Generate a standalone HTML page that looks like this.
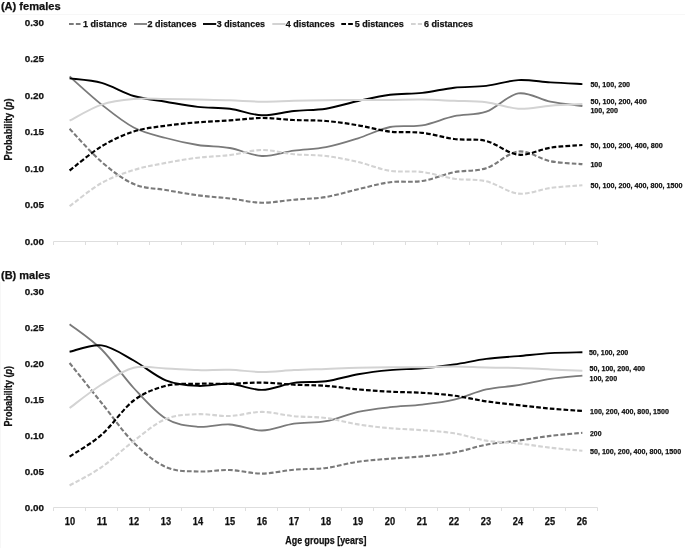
<!DOCTYPE html><html><head><meta charset="utf-8"><style>html,body{margin:0;padding:0;background:#fff;width:685px;height:548px;overflow:hidden}svg{display:block;will-change:transform}#wrap{width:685px;height:548px}text{font-family:"Liberation Sans", sans-serif;font-weight:bold;fill:#111;stroke:#111;stroke-width:0.25px}</style></head><body><div id="wrap">
<svg width="685" height="548" viewBox="0 0 685 548">
<rect width="685" height="548" fill="#fff"/>
<path d="M0,14.5H685M0.5,282V548" stroke="#f7f7f7" stroke-width="1" fill="none"/>
<text x="0.9" y="9.6" font-size="10.8" textLength="59.8" lengthAdjust="spacingAndGlyphs">(A) females</text>
<text x="1" y="278.6" font-size="10.8" textLength="49.4" lengthAdjust="spacingAndGlyphs">(B) males</text>
<text x="44" y="26" font-size="9.4" text-anchor="end" textLength="19.2" lengthAdjust="spacingAndGlyphs">0.30</text>
<text x="44" y="62.47" font-size="9.4" text-anchor="end" textLength="19.2" lengthAdjust="spacingAndGlyphs">0.25</text>
<text x="44" y="98.93" font-size="9.4" text-anchor="end" textLength="19.2" lengthAdjust="spacingAndGlyphs">0.20</text>
<text x="44" y="135.4" font-size="9.4" text-anchor="end" textLength="19.2" lengthAdjust="spacingAndGlyphs">0.15</text>
<text x="44" y="171.87" font-size="9.4" text-anchor="end" textLength="19.2" lengthAdjust="spacingAndGlyphs">0.10</text>
<text x="44" y="208.33" font-size="9.4" text-anchor="end" textLength="19.2" lengthAdjust="spacingAndGlyphs">0.05</text>
<text x="44" y="244.8" font-size="9.4" text-anchor="end" textLength="19.2" lengthAdjust="spacingAndGlyphs">0.00</text>
<text x="44" y="294.6" font-size="9.4" text-anchor="end" textLength="19.2" lengthAdjust="spacingAndGlyphs">0.30</text>
<text x="44" y="330.68" font-size="9.4" text-anchor="end" textLength="19.2" lengthAdjust="spacingAndGlyphs">0.25</text>
<text x="44" y="366.77" font-size="9.4" text-anchor="end" textLength="19.2" lengthAdjust="spacingAndGlyphs">0.20</text>
<text x="44" y="402.85" font-size="9.4" text-anchor="end" textLength="19.2" lengthAdjust="spacingAndGlyphs">0.15</text>
<text x="44" y="438.93" font-size="9.4" text-anchor="end" textLength="19.2" lengthAdjust="spacingAndGlyphs">0.10</text>
<text x="44" y="475.02" font-size="9.4" text-anchor="end" textLength="19.2" lengthAdjust="spacingAndGlyphs">0.05</text>
<text x="44" y="511.1" font-size="9.4" text-anchor="end" textLength="19.2" lengthAdjust="spacingAndGlyphs">0.00</text>
<text transform="translate(12.4,160.4) rotate(-90)" x="0" y="0" font-size="10.2" textLength="61.9" lengthAdjust="spacingAndGlyphs">Probability (<tspan font-style="italic">p</tspan>)</text>
<text transform="translate(12.4,426.6) rotate(-90)" x="0" y="0" font-size="10.2" textLength="60.6" lengthAdjust="spacingAndGlyphs">Probability (<tspan font-style="italic">p</tspan>)</text>
<path d="M53.5,241.5 H597.5 M53.5,241.5 V245 M85.5,241.5 V245 M117.5,241.5 V245 M149.5,241.5 V245 M181.5,241.5 V245 M213.5,241.5 V245 M245.5,241.5 V245 M277.5,241.5 V245 M309.5,241.5 V245 M341.5,241.5 V245 M373.5,241.5 V245 M405.5,241.5 V245 M437.5,241.5 V245 M469.5,241.5 V245 M501.5,241.5 V245 M533.5,241.5 V245 M565.5,241.5 V245 M597.5,241.5 V245" fill="none" stroke="#dedede" stroke-width="1"/>
<path d="M53.5,507.5 H597.5 M53.5,507.5 V511 M85.5,507.5 V511 M117.5,507.5 V511 M149.5,507.5 V511 M181.5,507.5 V511 M213.5,507.5 V511 M245.5,507.5 V511 M277.5,507.5 V511 M309.5,507.5 V511 M341.5,507.5 V511 M373.5,507.5 V511 M405.5,507.5 V511 M437.5,507.5 V511 M469.5,507.5 V511 M501.5,507.5 V511 M533.5,507.5 V511 M565.5,507.5 V511 M597.5,507.5 V511" fill="none" stroke="#dedede" stroke-width="1"/>
<text x="69.9" y="525" font-size="10.4" text-anchor="middle" textLength="10.3" lengthAdjust="spacingAndGlyphs">10</text>
<text x="101.9" y="525" font-size="10.4" text-anchor="middle" textLength="10.3" lengthAdjust="spacingAndGlyphs">11</text>
<text x="133.9" y="525" font-size="10.4" text-anchor="middle" textLength="10.3" lengthAdjust="spacingAndGlyphs">12</text>
<text x="165.9" y="525" font-size="10.4" text-anchor="middle" textLength="10.3" lengthAdjust="spacingAndGlyphs">13</text>
<text x="197.9" y="525" font-size="10.4" text-anchor="middle" textLength="10.3" lengthAdjust="spacingAndGlyphs">14</text>
<text x="229.9" y="525" font-size="10.4" text-anchor="middle" textLength="10.3" lengthAdjust="spacingAndGlyphs">15</text>
<text x="261.9" y="525" font-size="10.4" text-anchor="middle" textLength="10.3" lengthAdjust="spacingAndGlyphs">16</text>
<text x="293.9" y="525" font-size="10.4" text-anchor="middle" textLength="10.3" lengthAdjust="spacingAndGlyphs">17</text>
<text x="325.9" y="525" font-size="10.4" text-anchor="middle" textLength="10.3" lengthAdjust="spacingAndGlyphs">18</text>
<text x="357.9" y="525" font-size="10.4" text-anchor="middle" textLength="10.3" lengthAdjust="spacingAndGlyphs">19</text>
<text x="389.9" y="525" font-size="10.4" text-anchor="middle" textLength="10.3" lengthAdjust="spacingAndGlyphs">20</text>
<text x="421.9" y="525" font-size="10.4" text-anchor="middle" textLength="10.3" lengthAdjust="spacingAndGlyphs">21</text>
<text x="453.9" y="525" font-size="10.4" text-anchor="middle" textLength="10.3" lengthAdjust="spacingAndGlyphs">22</text>
<text x="485.9" y="525" font-size="10.4" text-anchor="middle" textLength="10.3" lengthAdjust="spacingAndGlyphs">23</text>
<text x="517.9" y="525" font-size="10.4" text-anchor="middle" textLength="10.3" lengthAdjust="spacingAndGlyphs">24</text>
<text x="549.9" y="525" font-size="10.4" text-anchor="middle" textLength="10.3" lengthAdjust="spacingAndGlyphs">25</text>
<text x="581.9" y="525" font-size="10.4" text-anchor="middle" textLength="10.3" lengthAdjust="spacingAndGlyphs">26</text>
<text x="285.3" y="544" font-size="10.0" textLength="81.1" lengthAdjust="spacingAndGlyphs">Age groups [years]</text>
<path d="M69,24H82" fill="none" stroke="#7a7a7a" stroke-width="2.1" stroke-linejoin="round" stroke-dasharray="4.7 2.15" stroke-linecap="butt"/>
<text x="83" y="27" font-size="9.4" textLength="44" lengthAdjust="spacingAndGlyphs">1 distance</text>
<path d="M134,24H147" fill="none" stroke="#7a7a7a" stroke-width="1.8" stroke-linejoin="round" stroke-linecap="butt"/>
<text x="147.6" y="27" font-size="9.4" textLength="48.9" lengthAdjust="spacingAndGlyphs">2 distances</text>
<path d="M203,24H216.2" fill="none" stroke="#000000" stroke-width="1.9" stroke-linejoin="round" stroke-linecap="butt"/>
<text x="216.8" y="27" font-size="9.4" textLength="48.2" lengthAdjust="spacingAndGlyphs">3 distances</text>
<path d="M272.3,24H285.4" fill="none" stroke="#d3d3d3" stroke-width="2.0" stroke-linejoin="round" stroke-linecap="butt"/>
<text x="285.8" y="27" font-size="9.4" textLength="48.9" lengthAdjust="spacingAndGlyphs">4 distances</text>
<path d="M341.3,24H354.2" fill="none" stroke="#000000" stroke-width="2.2" stroke-linejoin="round" stroke-dasharray="4.7 2.15" stroke-linecap="butt"/>
<text x="354.7" y="27" font-size="9.4" textLength="49.1" lengthAdjust="spacingAndGlyphs">5 distances</text>
<path d="M411,24H422" fill="none" stroke="#d3d3d3" stroke-width="2.1" stroke-linejoin="round" stroke-dasharray="4.7 2.15" stroke-linecap="butt"/>
<text x="424.1" y="27" font-size="9.4" textLength="48.9" lengthAdjust="spacingAndGlyphs">6 distances</text>
<path d="M69.6,128.8C74.94,134.33 90.97,152.8 101.65,162C112.33,171.2 123.02,179.33 133.7,184C144.38,188.67 155.07,188.12 165.75,190C176.43,191.88 187.12,193.88 197.8,195.3C208.48,196.72 219.17,197.27 229.85,198.5C240.53,199.73 251.22,202.5 261.9,202.7C272.58,202.9 283.27,200.65 293.95,199.7C304.63,198.75 315.32,198.75 326,197C336.68,195.25 347.37,191.67 358.05,189.2C368.73,186.73 379.42,183.57 390.1,182.2C400.78,180.83 411.47,182.67 422.15,181C432.83,179.33 443.52,174.33 454.2,172.2C464.88,170.07 475.57,171.65 486.25,168.2C496.93,164.75 507.62,152.67 518.3,151.5C528.98,150.33 539.67,159.1 550.35,161.2C561.03,163.3 577.06,163.62 582.4,164.1" fill="none" stroke="#7a7a7a" stroke-width="2.1" stroke-linejoin="round" stroke-dasharray="4.7 2.15" stroke-linecap="butt"/>
<path d="M69.6,76.5C74.94,81.18 90.97,96.1 101.65,104.6C112.33,113.1 123.02,121.93 133.7,127.5C144.38,133.07 155.07,135.08 165.75,138C176.43,140.92 187.12,143.33 197.8,145C208.48,146.67 219.17,146.17 229.85,148C240.53,149.83 251.22,155.55 261.9,156C272.58,156.45 283.27,152.17 293.95,150.7C304.63,149.23 315.32,149.27 326,147.2C336.68,145.13 347.37,141.67 358.05,138.3C368.73,134.93 379.42,129.15 390.1,127C400.78,124.85 411.47,127.2 422.15,125.4C432.83,123.6 443.52,118.48 454.2,116.2C464.88,113.92 475.57,115.5 486.25,111.7C496.93,107.9 507.62,95.07 518.3,93.4C528.98,91.73 539.67,99.6 550.35,101.7C561.03,103.8 577.06,105.28 582.4,106" fill="none" stroke="#7a7a7a" stroke-width="1.8" stroke-linejoin="round" stroke-linecap="butt"/>
<path d="M69.6,78.4C74.94,79.15 90.97,79.97 101.65,82.9C112.33,85.83 123.02,92.87 133.7,96C144.38,99.13 155.07,99.88 165.75,101.7C176.43,103.52 187.12,105.73 197.8,106.9C208.48,108.07 219.17,107.3 229.85,108.7C240.53,110.1 251.22,114.92 261.9,115.3C272.58,115.68 283.27,112.1 293.95,111C304.63,109.9 315.32,110.37 326,108.7C336.68,107.03 347.37,103.33 358.05,101C368.73,98.67 379.42,96.05 390.1,94.7C400.78,93.35 411.47,94.07 422.15,92.9C432.83,91.73 443.52,88.87 454.2,87.7C464.88,86.53 475.57,87.17 486.25,85.9C496.93,84.63 507.62,80.68 518.3,80.1C528.98,79.52 539.67,81.73 550.35,82.4C561.03,83.07 577.06,83.82 582.4,84.1" fill="none" stroke="#000000" stroke-width="1.9" stroke-linejoin="round" stroke-linecap="butt"/>
<path d="M69.6,120.6C74.94,117.93 90.97,108.2 101.65,104.6C112.33,101 123.02,99.93 133.7,99C144.38,98.07 155.07,98.9 165.75,99C176.43,99.1 187.12,99.38 197.8,99.6C208.48,99.82 219.17,99.95 229.85,100.3C240.53,100.65 251.22,101.62 261.9,101.7C272.58,101.78 283.27,101.03 293.95,100.8C304.63,100.57 315.32,100.45 326,100.3C336.68,100.15 347.37,99.97 358.05,99.9C368.73,99.83 379.42,99.95 390.1,99.9C400.78,99.85 411.47,99.45 422.15,99.6C432.83,99.75 443.52,100.37 454.2,100.8C464.88,101.23 475.57,100.88 486.25,102.2C496.93,103.52 507.62,108.12 518.3,108.7C528.98,109.28 539.67,106.48 550.35,105.7C561.03,104.92 577.06,104.28 582.4,104" fill="none" stroke="#d3d3d3" stroke-width="2.0" stroke-linejoin="round" stroke-linecap="butt"/>
<path d="M69.6,170.5C74.94,166.47 90.97,152.8 101.65,146.3C112.33,139.8 123.02,134.93 133.7,131.5C144.38,128.07 155.07,127.23 165.75,125.7C176.43,124.17 187.12,123.18 197.8,122.3C208.48,121.42 219.17,121.12 229.85,120.4C240.53,119.68 251.22,118.07 261.9,118C272.58,117.93 283.27,119.5 293.95,120C304.63,120.5 315.32,120.12 326,121C336.68,121.88 347.37,123.53 358.05,125.3C368.73,127.07 379.42,130.35 390.1,131.6C400.78,132.85 411.47,131.57 422.15,132.8C432.83,134.03 443.52,137.63 454.2,139C464.88,140.37 475.57,138.38 486.25,141C496.93,143.62 507.62,153.58 518.3,154.7C528.98,155.82 539.67,149.32 550.35,147.7C561.03,146.08 577.06,145.45 582.4,145" fill="none" stroke="#000000" stroke-width="2.2" stroke-linejoin="round" stroke-dasharray="4.7 2.15" stroke-linecap="butt"/>
<path d="M69.6,206.2C74.94,202.33 90.97,189.03 101.65,183C112.33,176.97 123.02,173.35 133.7,170C144.38,166.65 155.07,164.95 165.75,162.9C176.43,160.85 187.12,159 197.8,157.7C208.48,156.4 219.17,156.38 229.85,155.1C240.53,153.82 251.22,150.15 261.9,150C272.58,149.85 283.27,153.2 293.95,154.2C304.63,155.2 315.32,154.7 326,156C336.68,157.3 347.37,159.53 358.05,162C368.73,164.47 379.42,169.13 390.1,170.8C400.78,172.47 411.47,170.68 422.15,172C432.83,173.32 443.52,177.15 454.2,178.7C464.88,180.25 475.57,178.82 486.25,181.3C496.93,183.78 507.62,192.48 518.3,193.6C528.98,194.72 539.67,189.4 550.35,188C561.03,186.6 577.06,185.67 582.4,185.2" fill="none" stroke="#d3d3d3" stroke-width="2.1" stroke-linejoin="round" stroke-dasharray="4.7 2.15" stroke-linecap="butt"/>
<path d="M69.6,363C74.94,369.67 90.97,389.73 101.65,403C112.33,416.27 123.02,431.93 133.7,442.6C144.38,453.27 155.07,462.18 165.75,467C176.43,471.82 187.12,471 197.8,471.5C208.48,472 219.17,469.65 229.85,470C240.53,470.35 251.22,473.65 261.9,473.6C272.58,473.55 283.27,470.63 293.95,469.7C304.63,468.77 315.32,469.33 326,468C336.68,466.67 347.37,463.25 358.05,461.7C368.73,460.15 379.42,459.58 390.1,458.7C400.78,457.82 411.47,457.42 422.15,456.4C432.83,455.38 443.52,454.55 454.2,452.6C464.88,450.65 475.57,446.7 486.25,444.7C496.93,442.7 507.62,442.07 518.3,440.6C528.98,439.13 539.67,437.2 550.35,435.9C561.03,434.6 577.06,433.32 582.4,432.8" fill="none" stroke="#7a7a7a" stroke-width="2.1" stroke-linejoin="round" stroke-dasharray="4.7 2.15" stroke-linecap="butt"/>
<path d="M69.6,324.2C74.94,328.42 90.97,338.87 101.65,349.5C112.33,360.13 123.02,376.48 133.7,388C144.38,399.52 155.07,412.13 165.75,418.6C176.43,425.07 187.12,425.82 197.8,426.8C208.48,427.78 219.17,423.88 229.85,424.5C240.53,425.12 251.22,430.63 261.9,430.5C272.58,430.37 283.27,425.25 293.95,423.7C304.63,422.15 315.32,423.18 326,421.2C336.68,419.22 347.37,414.13 358.05,411.8C368.73,409.47 379.42,408.4 390.1,407.2C400.78,406 411.47,405.87 422.15,404.6C432.83,403.33 443.52,402.13 454.2,399.6C464.88,397.07 475.57,391.8 486.25,389.4C496.93,387 507.62,386.95 518.3,385.2C528.98,383.45 539.67,380.5 550.35,378.9C561.03,377.3 577.06,376.15 582.4,375.6" fill="none" stroke="#7a7a7a" stroke-width="1.8" stroke-linejoin="round" stroke-linecap="butt"/>
<path d="M69.6,351.8C74.94,350.73 90.97,343.95 101.65,345.4C112.33,346.85 123.02,354.68 133.7,360.5C144.38,366.32 155.07,376.07 165.75,380.3C176.43,384.53 187.12,385.32 197.8,385.9C208.48,386.48 219.17,383.13 229.85,383.8C240.53,384.47 251.22,390.05 261.9,389.9C272.58,389.75 283.27,384.35 293.95,382.9C304.63,381.45 315.32,382.65 326,381.2C336.68,379.75 347.37,376.05 358.05,374.2C368.73,372.35 379.42,371.08 390.1,370.1C400.78,369.12 411.47,369.23 422.15,368.3C432.83,367.37 443.52,366.07 454.2,364.5C464.88,362.93 475.57,360.3 486.25,358.9C496.93,357.5 507.62,357.07 518.3,356.1C528.98,355.13 539.67,353.73 550.35,353.1C561.03,352.47 577.06,352.43 582.4,352.3" fill="none" stroke="#000000" stroke-width="1.9" stroke-linejoin="round" stroke-linecap="butt"/>
<path d="M69.6,408C74.94,404.08 90.97,391.2 101.65,384.5C112.33,377.8 123.02,370.47 133.7,367.8C144.38,365.13 155.07,368.12 165.75,368.5C176.43,368.88 187.12,369.88 197.8,370.1C208.48,370.32 219.17,369.48 229.85,369.8C240.53,370.12 251.22,371.95 261.9,372C272.58,372.05 283.27,370.62 293.95,370.1C304.63,369.58 315.32,369.3 326,368.9C336.68,368.5 347.37,367.98 358.05,367.7C368.73,367.42 379.42,367.28 390.1,367.2C400.78,367.12 411.47,367.3 422.15,367.2C432.83,367.1 443.52,366.55 454.2,366.6C464.88,366.65 475.57,367.27 486.25,367.5C496.93,367.73 507.62,367.68 518.3,368C528.98,368.32 539.67,368.95 550.35,369.4C561.03,369.85 577.06,370.48 582.4,370.7" fill="none" stroke="#d3d3d3" stroke-width="2.0" stroke-linejoin="round" stroke-linecap="butt"/>
<path d="M69.6,456.6C74.94,452.95 90.97,444.05 101.65,434.7C112.33,425.35 123.02,408.63 133.7,400.5C144.38,392.37 155.07,388.68 165.75,385.9C176.43,383.12 187.12,384.15 197.8,383.8C208.48,383.45 219.17,384 229.85,383.8C240.53,383.6 251.22,382.45 261.9,382.6C272.58,382.75 283.27,384.15 293.95,384.7C304.63,385.25 315.32,385.12 326,385.9C336.68,386.68 347.37,388.43 358.05,389.4C368.73,390.37 379.42,391.13 390.1,391.7C400.78,392.27 411.47,392.13 422.15,392.8C432.83,393.47 443.52,394.28 454.2,395.7C464.88,397.12 475.57,399.72 486.25,401.3C496.93,402.88 507.62,403.98 518.3,405.2C528.98,406.42 539.67,407.63 550.35,408.6C561.03,409.57 577.06,410.6 582.4,411" fill="none" stroke="#000000" stroke-width="2.2" stroke-linejoin="round" stroke-dasharray="4.7 2.15" stroke-linecap="butt"/>
<path d="M69.6,485.5C74.94,482.43 90.97,474.52 101.65,467.1C112.33,459.68 123.02,449.02 133.7,441C144.38,432.98 155.07,423.47 165.75,419C176.43,414.53 187.12,414.7 197.8,414.2C208.48,413.7 219.17,416.38 229.85,416C240.53,415.62 251.22,411.87 261.9,411.9C272.58,411.93 283.27,415.18 293.95,416.2C304.63,417.22 315.32,416.63 326,418C336.68,419.37 347.37,422.7 358.05,424.4C368.73,426.1 379.42,427.23 390.1,428.2C400.78,429.17 411.47,429.35 422.15,430.2C432.83,431.05 443.52,431.57 454.2,433.3C464.88,435.03 475.57,438.92 486.25,440.6C496.93,442.28 507.62,442.22 518.3,443.4C528.98,444.58 539.67,446.47 550.35,447.7C561.03,448.93 577.06,450.28 582.4,450.8" fill="none" stroke="#d3d3d3" stroke-width="2.1" stroke-linejoin="round" stroke-dasharray="4.7 2.15" stroke-linecap="butt"/>
<text x="590.4" y="87.3" font-size="8.0" textLength="39.7" lengthAdjust="spacingAndGlyphs">50, 100, 200</text>
<text x="590.4" y="103.6" font-size="8.0" textLength="56.3" lengthAdjust="spacingAndGlyphs">50, 100, 200, 400</text>
<text x="590.4" y="113.3" font-size="8.0" textLength="27.6" lengthAdjust="spacingAndGlyphs">100, 200</text>
<text x="590.4" y="147.7" font-size="8.0" textLength="72.4" lengthAdjust="spacingAndGlyphs">50, 100, 200, 400, 800</text>
<text x="590.4" y="167.2" font-size="8.0" textLength="11.8" lengthAdjust="spacingAndGlyphs">100</text>
<text x="590.4" y="187.9" font-size="8.0" textLength="92" lengthAdjust="spacingAndGlyphs">50, 100, 200, 400, 800, 1500</text>
<text x="588.9" y="354.6" font-size="8.0" textLength="39.4" lengthAdjust="spacingAndGlyphs">50, 100, 200</text>
<text x="589.5" y="371.1" font-size="8.0" textLength="55.6" lengthAdjust="spacingAndGlyphs">50, 100, 200, 400</text>
<text x="589.5" y="380.6" font-size="8.0" textLength="27.6" lengthAdjust="spacingAndGlyphs">100, 200</text>
<text x="590" y="414.1" font-size="8.0" textLength="78.9" lengthAdjust="spacingAndGlyphs">100, 200, 400, 800, 1500</text>
<text x="590" y="435.7" font-size="8.0" textLength="11.5" lengthAdjust="spacingAndGlyphs">200</text>
<text x="590" y="453.6" font-size="8.0" textLength="91.2" lengthAdjust="spacingAndGlyphs">50, 100, 200, 400, 800, 1500</text>
</svg></div></body></html>
